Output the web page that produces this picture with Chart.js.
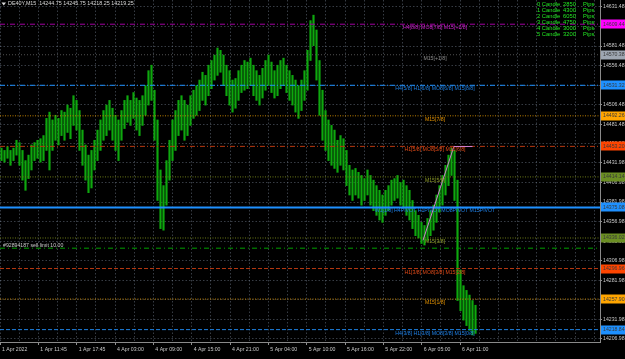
<!DOCTYPE html>
<html><head><meta charset="utf-8">
<script src="https://cdn.jsdelivr.net/npm/chart.js@4.4.1/dist/chart.umd.min.js"></script>
<style>html,body{margin:0;padding:0;background:#000;overflow:hidden}canvas{display:block;background:#000}</style>
</head><body>
<canvas id="c" width="625" height="359"></canvas>
<script>
const symbolTitle = 'DE40Y,M15  14244.75 14245.75 14218.25 14219.25';
const timeLabels = ['1 Apr 2022','1 Apr 11:45','1 Apr 17:45','4 Apr 03:00','4 Apr 09:00','4 Apr 15:00','4 Apr 21:00','5 Apr 04:00','5 Apr 10:00','5 Apr 16:00','5 Apr 22:00','6 Apr 05:00','6 Apr 11:00'];
const priceTicks = [14631.48,14606.48,14581.48,14556.48,14531.48,14506.48,14481.48,14456.98,14431.98,14406.98,14381.98,14356.98,14331.98,14306.98,14281.98,14256.98,14231.98,14206.98];

const barHigh = [14451,14448,14453,14448,14451,14461,14458,14448,14435,14442,14455,14458,14461,14463,14467,14489,14497,14487,14493,14489,
14499,14497,14506,14502,14518,14512,14499,14474,14455,14442,14448,14461,14474,14487,14499,14506,14512,14502,14493,14487,
14499,14512,14518,14512,14522,14515,14512,14518,14531,14550,14557,14525,14487,14423,14403,14435,14461,14487,14499,14512,
14518,14512,14506,14518,14525,14531,14538,14548,14544,14557,14563,14570,14579,14576,14570,14557,14550,14538,14540,14550,
14557,14563,14561,14566,14557,14550,14544,14553,14563,14570,14561,14550,14557,14563,14566,14557,14550,14544,14538,14531,
14538,14550,14576,14614,14621,14602,14563,14525,14499,14487,14480,14474,14461,14467,14463,14448,14429,14423,14425,14420,
14416,14412,14423,14416,14410,14403,14397,14391,14397,14403,14410,14412,14416,14407,14410,14403,14397,14384,14371,14365,
14356,14352,14361,14371,14378,14391,14403,14416,14429,14442,14451,14448,14410,14295,14275,14269,14263,14256,14250];
const barLow = [14435,14433,14438,14429,14435,14442,14429,14410,14397,14412,14423,14435,14438,14433,14435,14448,14423,14448,14461,14455,
14467,14461,14471,14463,14480,14474,14448,14429,14410,14394,14400,14423,14435,14448,14461,14467,14474,14461,14448,14435,
14461,14476,14484,14480,14489,14474,14467,14480,14493,14506,14512,14461,14384,14348,14346,14378,14410,14435,14448,14467,
14474,14461,14467,14480,14489,14493,14499,14512,14506,14518,14527,14538,14544,14548,14531,14518,14506,14497,14502,14512,
14522,14525,14527,14531,14518,14512,14506,14515,14525,14531,14522,14515,14518,14527,14531,14522,14512,14506,14497,14489,
14499,14512,14525,14563,14582,14538,14493,14461,14448,14435,14429,14425,14420,14429,14423,14403,14391,14384,14391,14387,
14378,14384,14391,14378,14371,14365,14359,14356,14365,14371,14378,14384,14387,14378,14374,14365,14359,14348,14339,14336,
14329,14327,14333,14339,14346,14356,14369,14378,14391,14403,14416,14384,14256,14243,14231,14224,14218,14212,14214];

const levelPrices = [14609.44,14570.38,14531.32,14492.26,14453.20,14414.14,14375.08,14336.02,14296.96,14257.90,14218.84];
const levelTexts = ['H4[8/8] MO8[7/8] M15[+2/8]','M15[+1/8]','H4[5/8] H1[6/8] MO8[6/8] M15[8/8]','M15[7/8]','H1[5/8] MO8[5/8] M15[6/8]','M15[5/8]','W1[1/8] H4PIVOT H1PIVOT MO8PIVOT M15PIVOT','M15[3/8]','H1[3/8] MO8[3/8] M15[2/8]','M15[1/8]','H4[3/8] H1[3/8] MO8[3/8] M15[0/8]'];

const orderPrice = 14323;
const orderText = '#92894187 sell limit 10.00';

const zigX = [140.5,150.8,157];
const zigY = [14333,14453,14453];

const candleNums = [0,1,2,3,4,5];
const candlePips = [2850,4300,6050,4750,3000,3200];

// styles (separate from data)
const levelStyles = [
 {line:'#a000a0', dash:[5,2,1,2], w:1, text:'#d020d0', box:'#ff00ff'},
 {line:'#505050', dash:[1,2], w:1, text:'#8c8c8c', box:'#9ea6b2'},
 {line:'#1e90ff', dash:[5,2,1,2], w:1, text:'#1e7fe0', box:'#1e90ff'},
 {line:'#c08000', dash:[1,1.5], w:1, text:'#e09000', box:'#ffa500'},
 {line:'#b83810', dash:[5,2,1,2], w:1, text:'#e04a18', box:'#ff4500'},
 {line:'#6c7a18', dash:[1,1.5], w:1, text:'#8c9a28', box:'#6b8e23'},
 {line:'#1e90ff', dash:[], w:2, text:'#1e80e8', box:'#1e90ff'},
 {line:'#6c7a18', dash:[1,1.5], w:1, text:'#8c9a28', box:'#6b8e23'},
 {line:'#b83810', dash:[4,2], w:1, text:'#e04a18', box:'#ff4500'},
 {line:'#c08000', dash:[1,1.5], w:1, text:'#e09000', box:'#ffa500'},
 {line:'#1e80e0', dash:[4,2], w:1, text:'#1e80e8', box:'#1e90ff'}
];
const X_MIN = -0.5, X_MAX = 199.5;
const FONT = '"Liberation Sans", Arial, sans-serif';
Chart.defaults.font.family = FONT;

const datasets = [];
datasets.push({type:'line', data: zigX.map((x,i)=>({x, y:zigY[i]})), borderColor:'#d080d0', borderWidth:1, pointRadius:0, order:0});
levelPrices.forEach((p,i)=>{
  const s = levelStyles[i];
  datasets.push({type:'line', data:[{x:X_MIN,y:p},{x:X_MAX,y:p}], borderColor:s.line, borderDash:s.dash, borderWidth:s.w, pointRadius:0, order:1});
});
datasets.push({type:'line', data:[{x:X_MIN,y:orderPrice},{x:X_MAX,y:orderPrice}], borderColor:'#00a000', borderDash:[5,3,1,3], borderWidth:1, pointRadius:0, order:1});
datasets.push({type:'bar', data: barHigh.map((h,i)=>({x:i, y:[barLow[i], h]})), backgroundColor:'#0ea80e', borderWidth:0, barThickness:1.5, grouped:false, order:3});

const overlay = {
  id:'overlay',
  afterDraw(chart){
    const {ctx, scales:{y}} = chart;
    ctx.save();
    ctx.font = '5.2px ' + FONT;
    ctx.textAlign = 'center'; ctx.textBaseline = 'top';
    levelPrices.forEach((p,i)=>{
      ctx.fillStyle = levelStyles[i].text;
      ctx.fillText(levelTexts[i], 435, y.getPixelForValue(p) + 1);
    });
    ctx.textAlign = 'left'; ctx.textBaseline = 'bottom'; ctx.fillStyle = '#c8c8c8';
    ctx.fillText(orderText, 3, y.getPixelForValue(orderPrice) - 0.5);
    ctx.textBaseline = 'middle';
    levelPrices.forEach((p,i)=>{
      const py = y.getPixelForValue(p);
      ctx.fillStyle = levelStyles[i].box;
      ctx.fillRect(601, Math.round(py) - 4.5, 24, 9);
      ctx.fillStyle = '#3a3a3a';
      ctx.fillText(p.toFixed(2), 603, py);
    });
    ctx.fillStyle = '#d8d8d8';
    ctx.beginPath(); ctx.moveTo(1.5,2.5); ctx.lineTo(6,2.5); ctx.lineTo(3.75,5.5); ctx.closePath(); ctx.fill();
    ctx.font = '5.4px ' + FONT;
    ctx.fillText(symbolTitle, 8, 4);
    ctx.font = '5.8px ' + FONT;
    ctx.fillStyle = '#22e622';
    candleNums.forEach((n,i)=>{
      const ty = 4 + 6*i;
      ctx.fillText(n + ' Candle', 537, ty);
      ctx.fillText(String(candlePips[i]), 563, ty);
      ctx.fillText('Pips', 583, ty);
    });
    ctx.restore();
  }
};

new Chart(document.getElementById('c'), {
  data:{datasets},
  options:{
    responsive:false, devicePixelRatio:1, animation:false,
    layout:{padding:0},
    plugins:{legend:{display:false}, tooltip:{enabled:false}},
    scales:{
      x:{
        type:'linear', min:X_MIN, max:X_MAX, offset:false,
        afterBuildTicks:s=>{ s.ticks = Array.from({length:32},(_,k)=>({value: X_MIN + k*6.389})); },
        afterFit:s=>{ s.height = 17; s.paddingLeft = 0; s.paddingRight = 0; },
        ticks:{autoSkip:false, maxRotation:0, minRotation:0, align:'start', labelOffset:2, padding:1,
          color:'#c8c8c8', font:{size:5.2},
          callback:(v,idx)=> (idx%2===0 && timeLabels[idx/2]) ? timeLabels[idx/2] : ''},
        grid:{offset:false, color:'rgba(110,120,135,0.5)', tickLength:3,
          tickColor:c=> (c.index%2===0 && c.index/2 < timeLabels.length) ? '#909090' : 'rgba(0,0,0,0)'},
        border:{display:true, color:'#8a8a8a', width:1, dash:[1.5,2]}
      },
      y:{
        type:'linear', position:'right', min:14203, max:14640.4,
        afterBuildTicks:s=>{ s.ticks = priceTicks.map(v=>({value:v})); },
        afterFit:s=>{ s.width = 25; s.paddingTop = 0; s.paddingBottom = 0; },
        ticks:{autoSkip:false, padding:1, color:'#c8c8c8', font:{size:5.2}, callback:v=>v.toFixed(2)},
        grid:{color:'rgba(110,120,135,0.5)', tickLength:2, tickColor:'#909090'},
        border:{display:true, color:'#8a8a8a', width:1, dash:[1.5,2]}
      }
    }
  },
  plugins:[overlay]
});
</script>
</body></html>
